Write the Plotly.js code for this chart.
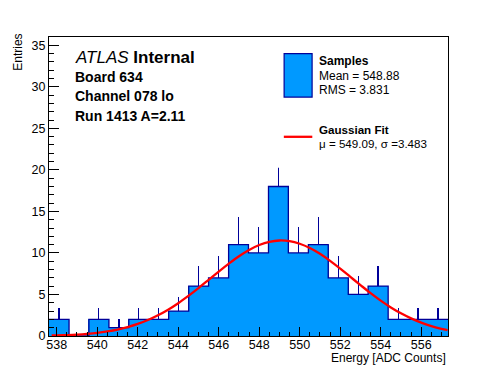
<!DOCTYPE html>
<html>
<head>
<meta charset="utf-8">
<script src="https://cdn.plot.ly/plotly-3.0.1.min.js"></script>
<style>html,body{margin:0;padding:0;background:#fff}#chart{width:498px;height:374px}</style>
</head>
<body>
<div id="chart"></div>
<script>
// ---- data ----
const binCenters = [538.11, 539.10, 540.08, 541.07, 542.05, 543.04, 544.02, 545.01, 545.99, 546.98,
                    547.96, 548.95, 549.93, 550.92, 551.90, 552.89, 553.87, 554.86, 555.84, 556.83];
const binWidth = 0.985;
const counts = [2, 0, 2, 1, 2, 2, 3, 6, 7, 11, 10, 18, 10, 11, 7, 5, 6, 2, 2, 2];
const errorsUp = [1.41, 0, 1.41, 1, 1.41, 1.41, 1.73, 2.45, 2.65, 3.32, 3.16, 4.24, 3.16, 3.32, 2.65, 2.24, 2.45, 1.41, 1.41, 1.41];

const fitX = [537.75, 538, 538.5, 539, 539.5, 540, 540.5, 541, 541.5, 542, 542.5, 543, 543.5, 544, 544.5,
              545, 545.5, 546, 546.5, 547, 547.5, 548, 548.5, 549, 549.5, 550, 550.5, 551, 551.5, 552,
              552.5, 553, 553.5, 554, 554.5, 555, 555.5, 556, 556.5, 557, 557.3];
const fitY = [0.06, 0.07, 0.11, 0.17, 0.26, 0.38, 0.55, 0.77, 1.07, 1.45, 1.92, 2.50, 3.17, 3.95, 4.83,
              5.77, 6.76, 7.76, 8.72, 9.61, 10.36, 10.95, 11.34, 11.50, 11.42, 11.11, 10.60, 9.90, 9.05, 8.11,
              7.12, 6.13, 5.16, 4.26, 3.44, 2.73, 2.12, 1.61, 1.20, 0.87, 0.72];

const xTickVals = [538, 540, 542, 544, 546, 548, 550, 552, 554, 556];
const yTickVals = [0, 5, 10, 15, 20, 25, 30, 35];

const headerLines = ['Board 634', 'Channel 078 lo', 'Run 1413 A=2.11'];
const legendSamples = ['Samples', 'Mean = 548.88', 'RMS = 3.831'];
const legendFit = ['Gaussian Fit', '\u03bc = 549.09, \u03c3 =3.483'];

// ---- derived outline of the histogram ----
const stepX = binCenters.map(c => c - binWidth / 2).concat([binCenters[binCenters.length - 1] + binWidth / 2]);
const stepY = counts.concat([counts[counts.length - 1]]);

// ---- layout geometry (pixels) ----
const W = 498, H = 374;
const L = 49, R = 448.3, T = 37.3, B = 336;
const px = x => (x - L) / (R - L);
const py = y => (B - y) / (B - T);
const FONT = 'Liberation Sans, Arial, Helvetica, sans-serif';
const HIST_FILL = '#0099ff', HIST_LINE = '#000099';

const traces = [
  {
    type: 'bar', x: binCenters, y: counts, width: binWidth * 1.04,
    marker: {color: HIST_FILL, line: {width: 0}},
    error_y: {type: 'data', symmetric: false, array: errorsUp, arrayminus: counts.map(() => 0),
              width: 0, thickness: 1.2, color: HIST_LINE},
    hoverinfo: 'x+y', showlegend: false
  },
  {
    type: 'scatter', mode: 'lines', x: stepX, y: stepY,
    line: {shape: 'hv', color: HIST_LINE, width: 1.3}, showlegend: false, hoverinfo: 'skip'
  },
  {
    type: 'scatter', mode: 'lines', x: fitX, y: fitY,
    line: {shape: 'spline', color: '#ff0000', width: 2.3}, showlegend: false
  }
];

const ann = [];
function txt(text, x, yc, size, opts) {
  ann.push(Object.assign({
    text: text, xref: 'paper', yref: 'paper', x: px(x), y: py(yc),
    xanchor: 'left', yanchor: 'middle', showarrow: false,
    font: {family: FONT, size: size, color: '#000'}
  }, opts || {}));
}
txt('<i>ATLAS</i> <b>Internal</b>', 73, 57.3, 17);
txt('<b>' + headerLines[0] + '</b>', 73, 77.2, 14);
txt('<b>' + headerLines[1] + '</b>', 73, 96.7, 14);
txt('<b>' + headerLines[2] + '</b>', 73, 115.8, 14);
txt('<b>' + legendSamples[0] + '</b>', 317.5, 61.3, 12);
txt(legendSamples[1], 317.5, 75.8, 12);
txt(legendSamples[2], 317.5, 90.7, 12);
txt('<b>' + legendFit[0] + '</b>', 317.5, 129.8, 11.6);
txt(legendFit[1], 317.5, 143.6, 11.6);
// axis titles (ROOT style: aligned at the axis end)
txt('Energy [ADC Counts]', 448.5, 357.5, 12, {xanchor: 'right'});
txt('Entries', 18, 53, 12, {xanchor: 'center', textangle: -90});

const shapes = [
  // legend box (white, covers what lies beneath)
  {type: 'rect', xref: 'paper', yref: 'paper', x0: px(270), x1: px(440), y0: py(168), y1: py(44),
   fillcolor: '#ffffff', line: {width: 0}, layer: 'above'},
  {type: 'rect', xref: 'paper', yref: 'paper', x0: px(284.3), x1: px(312.3), y0: py(97.3), y1: py(54),
   fillcolor: HIST_FILL, line: {width: 1.2, color: HIST_LINE}, layer: 'above'},
  {type: 'line', xref: 'paper', yref: 'paper', x0: px(284), x1: px(312.5), y0: py(137), y1: py(137),
   line: {width: 2.3, color: '#ff0000'}, layer: 'above'}
];

const layout = {
  width: W, height: H,
  margin: {l: L, r: W - R, t: T, b: H - B, pad: 0},
  paper_bgcolor: '#fff', plot_bgcolor: '#fff',
  font: {family: FONT, size: 12, color: '#000'},
  bargap: 0,
  showlegend: false,
  xaxis: {
    range: [stepX[0], stepX[stepX.length - 1]], tickmode: 'array', tickvals: xTickVals,
    ticks: 'inside', ticklen: 9, tickwidth: 1, tickcolor: '#000',
    minor: {dtick: 0.5, tick0: 538, ticks: 'inside', ticklen: 4.5, tickcolor: '#000', tickwidth: 1, showgrid: false},
    showline: true, linecolor: '#000', linewidth: 1, mirror: true,
    showgrid: false, zeroline: false, tickfont: {family: FONT, size: 12.5, color: '#000'},
    ticklabelstandoff: -3,
    layer: 'above traces', fixedrange: true
  },
  yaxis: {
    range: [0, 36], tickmode: 'array', tickvals: yTickVals,
    ticks: 'inside', ticklen: 10, tickwidth: 1, tickcolor: '#000',
    minor: {dtick: 1, tick0: 0, ticks: 'inside', ticklen: 5, tickcolor: '#000', tickwidth: 1, showgrid: false},
    showline: true, linecolor: '#000', linewidth: 1, mirror: true,
    showgrid: false, zeroline: false, tickfont: {family: FONT, size: 12.5, color: '#000'},
    layer: 'above traces', fixedrange: true
  },
  annotations: ann,
  shapes: shapes
};

Plotly.newPlot('chart', traces, layout, {displayModeBar: false, staticPlot: true});
</script>
</body>
</html>
